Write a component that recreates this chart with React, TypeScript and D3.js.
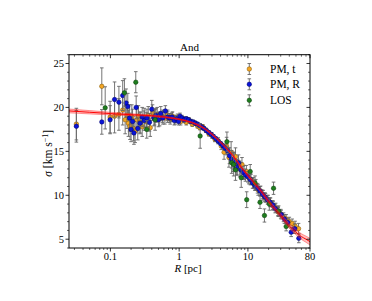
import React from "react";
import * as d3 from "d3";

const title = "And";
const seriesNames = ["PM, t", "PM, R", "LOS"];
const xTickValues = [0.1, 1, 10, 80];
const xTickLabels = ["0.1", "1", "10", "80"];
const yTickValues = [5, 10, 15, 20, 25];

const orangeR = [0.032, 0.075, 0.099, 0.115, 0.133, 0.151, 0.164, 0.175, 0.183, 0.193, 0.205, 0.218, 0.229, 0.242, 0.256, 0.27, 0.29, 0.31, 0.33, 0.355, 0.38, 0.41, 0.44, 0.48, 0.52, 0.57, 0.62, 0.68, 0.74, 0.8, 0.87, 0.95, 1.05, 1.15, 1.27, 1.4, 1.55, 1.7, 1.85, 2.0, 2.2, 2.45, 2.7, 3.0, 3.3, 3.7, 4.1, 4.5, 4.9, 5.3, 5.7, 6.1, 6.6, 7.1, 7.6, 8.2, 8.8, 9.5, 10.3, 11.1, 12.0, 13.0, 14.1, 15.3, 16.6, 18, 19.6, 21.3, 23.2, 25.3, 27.6, 30, 33, 36, 40, 44, 48.6, 54.5];
const orangeSigma = [18.1, 22.4, 18.9, 19.0, 19.2, 19.7, 18.6, 19.1, 18.2, 17.85, 18.9, 17.6, 17.3, 18.6, 19.0, 18.3, 17.8, 18.8, 18.4, 19.1, 17.7, 19.4, 18.9, 19.2, 18.7, 19.0, 18.8, 19.1, 18.7, 19.0, 18.6, 18.8, 18.4, 18.6, 18.3, 18.5, 18.1, 18.2, 17.9, 17.7, 17.8, 17.4, 17.0, 16.8, 16.4, 16.2, 15.6, 14.9, 15.6, 14.3, 14.9, 13.8, 14.4, 13.2, 13.0, 13.5, 12.6, 12.7, 12.0, 11.8, 11.4, 11.2, 10.6, 10.5, 10.0, 9.7, 9.5, 9.2, 8.8, 8.6, 8.1, 7.9, 7.5, 7.3, 7.0, 6.8, 6.5, 6.2];
const orangeErr = [1.8, 2.1, 1.8, 1.9, 1.8, 1.7, 1.6, 1.5, 1.5, 1.5, 1.4, 1.4, 1.3, 1.3, 1.2, 1.2, 1.1, 1.1, 1.0, 1.0, 1.0, 0.9, 0.9, 0.8, 0.8, 0.7, 0.7, 0.6, 0.6, 0.5, 0.5, 0.45, 0.4, 0.35, 0.3, 0.3, 0.25, 0.25, 0.25, 0.25, 0.25, 0.25, 0.25, 0.3, 0.3, 0.35, 0.4, 0.8, 1.0, 1.1, 1.2, 1.1, 1.0, 0.9, 0.9, 0.8, 0.8, 0.7, 0.7, 0.6, 0.6, 0.6, 0.6, 0.55, 0.55, 0.5, 0.5, 0.5, 0.5, 0.5, 0.5, 0.5, 0.5, 0.5, 0.5, 0.5, 0.55, 0.6];

const blueR = [0.032, 0.075, 0.099, 0.115, 0.133, 0.151, 0.169, 0.179, 0.19, 0.2, 0.21, 0.22, 0.237, 0.25, 0.27, 0.29, 0.31, 0.34, 0.37, 0.4, 0.43, 0.46, 0.5, 0.54, 0.58, 0.63, 0.68, 0.73, 0.79, 0.85, 0.92, 0.98, 1.03, 1.1, 1.18, 1.27, 1.37, 1.48, 1.6, 1.72, 1.85, 2.0, 2.15, 2.3, 2.5, 2.7, 2.9, 3.15, 3.4, 3.7, 4.0, 4.3, 4.6, 5.0, 5.4, 5.8, 6.3, 6.8, 7.3, 7.9, 8.5, 9.2, 10, 10.8, 11.7, 12.7, 13.8, 15, 16.3, 17.7, 19.3, 21, 23, 25, 27.5, 30.5, 34, 38, 42.6, 48, 55];
const blueSigma = [17.85, 18.35, 18.6, 20.9, 20.6, 21.35, 20.5, 20.1, 18.8, 17.5, 18.4, 17.1, 20.0, 17.6, 18.2, 18.9, 18.5, 18.8, 18.3, 19.8, 18.8, 19.1, 18.6, 19.3, 18.8, 19.6, 18.9, 18.8, 18.9, 18.5, 18.7, 18.4, 19.0, 18.8, 18.6, 18.7, 18.6, 18.4, 18.35, 18.2, 18.1, 17.95, 17.75, 17.6, 17.35, 17.15, 16.95, 16.7, 16.45, 16.15, 15.9, 15.65, 15.4, 15.1, 14.5, 14.1, 13.9, 13.2, 13.7, 12.9, 12.6, 12.3, 12.1, 11.8, 11.4, 11.1, 10.8, 10.5, 10.1, 9.8, 9.5, 9.2, 8.9, 8.5, 8.2, 7.8, 7.3, 6.9, 5.8, 6.2, 5.1];
const blueErr = [1.8, 1.4, 1.6, 2.0, 1.8, 1.7, 1.6, 1.5, 1.5, 1.4, 1.4, 1.3, 1.3, 1.3, 1.2, 1.1, 1.1, 1.0, 1.0, 1.0, 0.9, 0.8, 0.8, 0.8, 0.7, 0.6, 0.6, 0.5, 0.5, 0.5, 0.4, 0.4, 0.35, 0.3, 0.3, 0.25, 0.25, 0.25, 0.2, 0.2, 0.2, 0.2, 0.2, 0.2, 0.2, 0.2, 0.2, 0.2, 0.2, 0.2, 0.2, 0.25, 0.3, 0.4, 0.9, 1.0, 1.0, 0.9, 0.9, 0.8, 0.7, 0.7, 0.6, 0.6, 0.6, 0.55, 0.55, 0.5, 0.5, 0.5, 0.5, 0.5, 0.5, 0.5, 0.5, 0.5, 0.5, 0.5, 0.5, 0.55, 0.5];

const greenR = [0.084, 0.16, 0.234, 0.338, 0.447, 2.02, 4.95, 5.8, 6.2, 6.6, 8.0, 9.6, 10.8, 12.7, 15, 17.4, 20.5, 23.6, 28, 36];
const greenSigma = [19.95, 21.66, 22.87, 17.5, 18.6, 16.75, 16.1, 13.7, 13.5, 12.9, 12.0, 9.5, 12.7, 11.4, 9.2, 7.7, 9.0, 10.8, 8.2, 6.45];
const greenErr = [2.4, 1.6, 1.2, 1.0, 1.2, 1.4, 1.1, 1.2, 1.3, 1.2, 1.1, 0.9, 0.8, 0.8, 0.7, 0.75, 0.7, 0.7, 0.6, 0.5];

const fitR = [0.025, 0.05, 0.1, 0.2, 0.4, 0.7, 1, 1.5, 2, 3, 4, 5, 6, 8, 10, 13, 16, 20, 25, 30, 40, 50, 60, 70, 80];
const fitSigma = [19.6, 19.45, 19.3, 19.17, 19.05, 18.85, 18.65, 18.3, 17.9, 16.95, 16.05, 15.25, 14.55, 13.2, 12.25, 11.2, 10.35, 9.3, 8.4, 7.7, 6.5, 5.8, 5.3, 5.0, 4.72];
const fitHalfWidth = [0.22, 0.19, 0.15, 0.11, 0.08, 0.07, 0.07, 0.07, 0.08, 0.09, 0.1, 0.11, 0.12, 0.13, 0.14, 0.16, 0.17, 0.19, 0.21, 0.23, 0.27, 0.3, 0.32, 0.35, 0.38];

const W = 372;
const H = 301;
const L = 69, R_ = 310, T = 54.7, B = 248;
const FONT = "'Liberation Serif', 'DejaVu Serif', serif";

const colors = ["#f5a623", "#0a14d8", "#1e7d1e"];
const edge = ["#7a5200", "#000066", "#0c3d0c"];

export default function App() {
  const x = d3.scaleLog().domain([0.025, 80]).range([L, R_]);
  const y = d3.scaleLinear().domain([4, 26]).range([B, T]);

  const series = [
    { r: orangeR, s: orangeSigma, e: orangeErr },
    { r: blueR, s: blueSigma, e: blueErr },
    { r: greenR, s: greenSigma, e: greenErr },
  ];

  const minorX: number[] = [];
  [0.01, 0.1, 1, 10].forEach((dec) => {
    for (let k = 2; k <= 9; k++) {
      const v = dec * k;
      if (v > 0.025 && v < 80) minorX.push(v);
    }
  });
  const minorY = d3.range(4, 27, 1).filter((v) => v % 5 !== 0);

  const fitIdx = d3.range(fitR.length);
  const band = d3
    .area<number>()
    .x((i) => x(fitR[i]))
    .y0((i) => y(fitSigma[i] - fitHalfWidth[i]))
    .y1((i) => y(fitSigma[i] + fitHalfWidth[i]))
    .curve(d3.curveMonotoneX);
  const lineC = d3
    .line<number>()
    .x((i) => x(fitR[i]))
    .y((i) => y(fitSigma[i]))
    .curve(d3.curveMonotoneX);
  const lineHi = d3
    .line<number>()
    .x((i) => x(fitR[i]))
    .y((i) => y(fitSigma[i] + fitHalfWidth[i]))
    .curve(d3.curveMonotoneX);
  const lineLo = d3
    .line<number>()
    .x((i) => x(fitR[i]))
    .y((i) => y(fitSigma[i] - fitHalfWidth[i]))
    .curve(d3.curveMonotoneX);

  const cap = 1.8;
  const mr = 2.25;

  const legendY = [69, 84.3, 100.3];
  const legendX = 249.3;
  const txt = { fontFamily: FONT };

  return (
    <svg
      width={W}
      height={H}
      style={{ position: "absolute", left: 0, top: 0, background: "#fff", fontFamily: FONT }}
    >
      <defs>
        <clipPath id="plotclip">
          <rect x={L} y={T} width={R_ - L} height={B - T} />
        </clipPath>
      </defs>
      <g clipPath="url(#plotclip)">
        {series.map((sr, si) => (
          <g key={si}>
            {sr.r.map((rv, i) => {
              const cx = x(rv);
              const y1 = y(sr.s[i] + sr.e[i]);
              const y2 = y(sr.s[i] - sr.e[i]);
              return (
                <g key={i} stroke="#666" strokeWidth={0.9}>
                  <line x1={cx} x2={cx} y1={y1} y2={y2} />
                  <line x1={cx - cap} x2={cx + cap} y1={y1} y2={y1} />
                  <line x1={cx - cap} x2={cx + cap} y1={y2} y2={y2} />
                </g>
              );
            })}
            {sr.r.map((rv, i) => (
              <circle
                key={"m" + i}
                cx={x(rv)}
                cy={y(sr.s[i])}
                r={mr}
                fill={colors[si]}
                stroke={edge[si]}
                strokeWidth={0.5}
              />
            ))}
          </g>
        ))}
        <path d={band(fitIdx) || ""} fill="#ff0000" fillOpacity={0.25} stroke="none" />
        <path d={lineHi(fitIdx) || ""} fill="none" stroke="#ff3030" strokeOpacity={0.6} strokeWidth={0.8} />
        <path d={lineLo(fitIdx) || ""} fill="none" stroke="#ff3030" strokeOpacity={0.6} strokeWidth={0.8} />
        <path d={lineC(fitIdx) || ""} fill="none" stroke="#ff0000" strokeWidth={1} />
      </g>

      <rect x={L} y={T} width={R_ - L} height={B - T} fill="none" stroke="#000" strokeWidth={1} />

      {xTickValues.map((v, i) => (
        <g key={"xt" + i}>
          <line x1={x(v)} x2={x(v)} y1={B} y2={B + 3.5} stroke="#000" strokeWidth={0.8} />
          <line x1={x(v)} x2={x(v)} y1={T} y2={T + 3.5} stroke="#000" strokeWidth={0.8} />
          <text x={x(v)} y={259.5} textAnchor="middle" fontSize={10.5} fill="#000" style={txt}>
            {xTickLabels[i]}
          </text>
        </g>
      ))}
      {minorX.map((v, i) => (
        <g key={"xm" + i}>
          <line x1={x(v)} x2={x(v)} y1={B} y2={B + 2} stroke="#000" strokeWidth={0.6} />
          <line x1={x(v)} x2={x(v)} y1={T} y2={T + 2} stroke="#000" strokeWidth={0.6} />
        </g>
      ))}

      {yTickValues.map((v, i) => (
        <g key={"yt" + i}>
          <line x1={L - 3.5} x2={L} y1={y(v)} y2={y(v)} stroke="#000" strokeWidth={0.8} />
          <line x1={R_ - 3.5} x2={R_} y1={y(v)} y2={y(v)} stroke="#000" strokeWidth={0.8} />
          <text x={L - 5} y={y(v) + 3.6} textAnchor="end" fontSize={10.5} fill="#000" style={txt}>
            {String(v)}
          </text>
        </g>
      ))}
      {minorY.map((v, i) => (
        <g key={"ym" + i}>
          <line x1={L - 2} x2={L} y1={y(v)} y2={y(v)} stroke="#000" strokeWidth={0.6} />
          <line x1={R_ - 2} x2={R_} y1={y(v)} y2={y(v)} stroke="#000" strokeWidth={0.6} />
        </g>
      ))}

      <text x={(L + R_) / 2} y={51} textAnchor="middle" fontSize={11} fill="#000" style={txt}>
        {title}
      </text>

      <text x={188} y={272} textAnchor="middle" fontSize={11} fill="#000" style={txt}>
        <tspan fontStyle="italic">R</tspan>
        <tspan> [pc]</tspan>
      </text>
      <text
        transform={`translate(51.5,${(T + B) / 2 + 2}) rotate(-90)`}
        textAnchor="middle"
        fontSize={11.5}
        fill="#000"
        style={txt}
      >
        <tspan fontStyle="italic">σ</tspan>
        <tspan> [km s</tspan>
        <tspan fontSize={8} dy={-4}>−1</tspan>
        <tspan dy={4}>]</tspan>
      </text>

      {seriesNames.map((name, i) => (
        <g key={"lg" + i}>
          <g stroke="#666" strokeWidth={0.9}>
            <line x1={legendX} x2={legendX} y1={legendY[i] - 5.5} y2={legendY[i] + 5.5} />
            <line x1={legendX - cap} x2={legendX + cap} y1={legendY[i] - 5.5} y2={legendY[i] - 5.5} />
            <line x1={legendX - cap} x2={legendX + cap} y1={legendY[i] + 5.5} y2={legendY[i] + 5.5} />
          </g>
          <circle cx={legendX} cy={legendY[i]} r={mr} fill={colors[i]} stroke={edge[i]} strokeWidth={0.5} />
          <text x={270} y={legendY[i] + 3.8} fontSize={11.5} fill="#000" style={txt}>
            {name}
          </text>
        </g>
      ))}
    </svg>
  );
}
